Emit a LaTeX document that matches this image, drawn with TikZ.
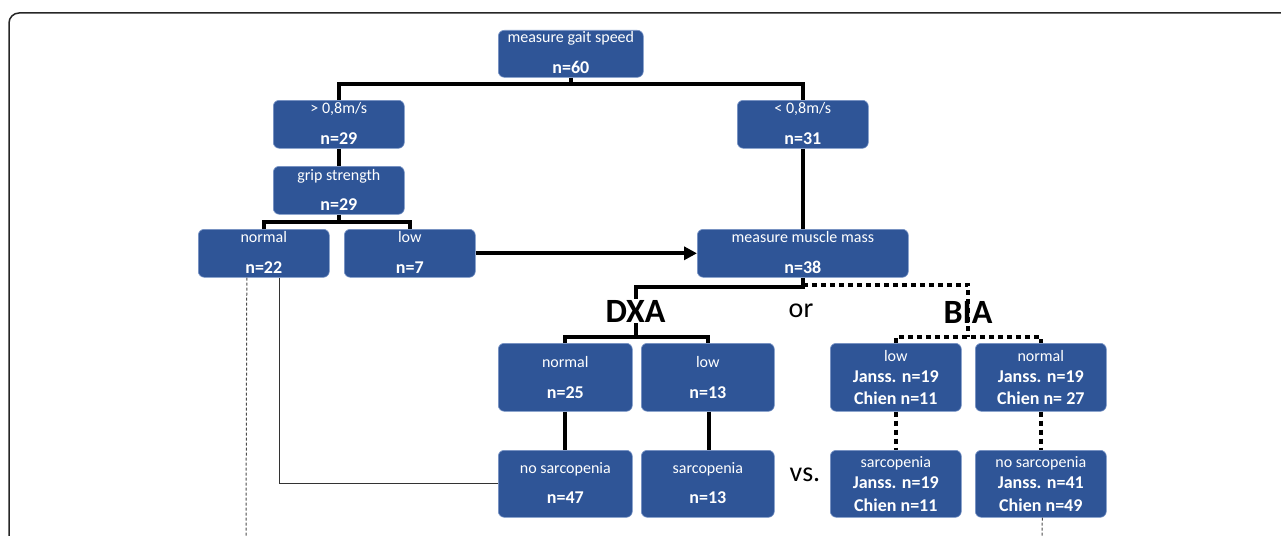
\documentclass[tikz,border=0pt]{standalone}
\usepackage{fontspec}
\setmainfont{Carlito}
\usetikzlibrary{arrows.meta}
\definecolor{boxblue}{RGB}{47,85,151}
\definecolor{boxedge}{RGB}{120,148,198}
\begin{document}
\begin{tikzpicture}[x=1pt,y=-1pt,
 box/.style={fill=boxblue, draw=boxedge, line width=0.6pt, rounded corners=6pt, anchor=north west, inner sep=0pt},
 ttl/.style={anchor=base, inner sep=0pt, text=white, font=\fontsize{16}{19}\selectfont},
 num/.style={anchor=base, inner sep=0pt, text=white, font=\fontsize{18}{21}\selectfont\bfseries},
 conn/.style={line width=4pt, black},
 dotconn/.style={line width=4pt, black, dash pattern=on 5pt off 4pt},
 thinconn/.style={line width=1pt, black!80},
 dashconn/.style={line width=1pt, black!70, dash pattern=on 3pt off 2pt},
 big/.style={inner sep=1pt, text height=22pt, text depth=0pt, anchor=base, font=\fontsize{34}{40}\selectfont\bfseries},
 mid/.style={anchor=base, inner sep=0pt, font=\fontsize{28}{32}\selectfont}
]
\useasboundingbox (0,0) rectangle (1281,535);
% outer frame
\draw[line width=1.5pt, black!85, rounded corners=10pt] (9,545) -- (9,13) -- (1295,13);

% boxes
\node[box, minimum width=145pt, minimum height=47pt] (gait) at (498,30) {};
\node[box, minimum width=131pt, minimum height=48pt] (fast) at (273,100) {};
\node[box, minimum width=131pt, minimum height=48pt] (slow) at (737,100) {};
\node[box, minimum width=131pt, minimum height=48pt] (grip) at (273,166) {};
\node[box, minimum width=131pt, minimum height=48pt] (gnorm) at (198,229) {};
\node[box, minimum width=131pt, minimum height=48pt] (glow) at (344,229) {};
\node[box, minimum width=211pt, minimum height=48pt] (muscle) at (697,229) {};
\node[box, minimum width=134pt, minimum height=68pt] (dnorm) at (498,343) {};
\node[box, minimum width=133pt, minimum height=68pt] (dlow) at (641,343) {};
\node[box, minimum width=134pt, minimum height=67pt] (dno) at (498,450) {};
\node[box, minimum width=133pt, minimum height=67pt] (dsar) at (641,450) {};
\node[box, minimum width=131pt, minimum height=68pt] (blow) at (830,343) {};
\node[box, minimum width=131pt, minimum height=68pt] (bnorm) at (975,343) {};
\node[box, minimum width=131pt, minimum height=67pt] (bsar) at (830,450) {};
\node[box, minimum width=131pt, minimum height=67pt] (bno) at (975,450) {};

% box texts
\node[ttl] at ([yshift=-13pt]gait.north) {measure gait speed};
\node[num] at ([yshift=-44pt]gait.north) {n=60};
\node[ttl] at ([yshift=-13pt]fast.north) {> 0,8m/s};
\node[num] at ([yshift=-44pt]fast.north) {n=29};
\node[ttl] at ([yshift=-13pt]slow.north) {< 0,8m/s};
\node[num] at ([yshift=-44pt]slow.north) {n=31};
\node[ttl] at ([yshift=-14pt]grip.north) {grip strength};
\node[num] at ([yshift=-44pt]grip.north) {n=29};
\node[ttl] at ([yshift=-13pt]gnorm.north) {normal};
\node[num] at ([yshift=-44pt]gnorm.north) {n=22};
\node[ttl] at ([yshift=-13pt]glow.north) {low};
\node[num] at ([yshift=-44pt]glow.north) {n=7};
\node[ttl] at ([yshift=-13pt]muscle.north) {measure muscle mass};
\node[num] at ([yshift=-44pt]muscle.north) {n=38};
\node[ttl] at ([yshift=-24pt]dnorm.north) {normal};
\node[num] at ([yshift=-55pt]dnorm.north) {n=25};
\node[ttl] at ([yshift=-24pt]dlow.north) {low};
\node[num] at ([yshift=-55pt]dlow.north) {n=13};
\node[ttl] at ([yshift=-23pt]dno.north) {no sarcopenia};
\node[num] at ([yshift=-53pt]dno.north) {n=47};
\node[ttl] at ([yshift=-23pt]dsar.north) {sarcopenia};
\node[num] at ([yshift=-53pt]dsar.north) {n=13};
\node[ttl] at ([yshift=-18pt]blow.north) {low};
\node[num] at ([yshift=-39pt]blow.north) {Janss. n=19};
\node[num] at ([yshift=-61pt]blow.north) {Chien n=11};
\node[ttl] at ([yshift=-18pt]bnorm.north) {normal};
\node[num] at ([yshift=-39pt]bnorm.north) {Janss. n=19};
\node[num] at ([yshift=-61pt]bnorm.north) {Chien n= 27};
\node[ttl] at ([yshift=-17pt]bsar.north) {sarcopenia};
\node[num] at ([yshift=-38pt]bsar.north) {Janss. n=19};
\node[num] at ([yshift=-61pt]bsar.north) {Chien n=11};
\node[ttl] at ([yshift=-17pt]bno.north) {no sarcopenia};
\node[num] at ([yshift=-38pt]bno.north) {Janss. n=41};
\node[num] at ([yshift=-61pt]bno.north) {Chien n=49};

% free labels
\node[big] (dxa) at (635.5,322) {DXA};
\node[big] (bia) at (968,323) {BIA};
\node[mid] (or) at (801,317) {or};
\node[mid] (vs) at (805,481) {vs.};

% connectors
\draw[conn] (fast.north) -- ++(0,-16) -| (slow.north);
\draw[conn] (gait.south) -- ([yshift=16pt]gait.south |- fast.north);
\draw[conn] (fast.south) -- (fast.south |- grip.north);
\draw[conn] (gnorm.north) -- ++(0,-7) -| (glow.north);
\draw[conn] (grip.south) -- ([yshift=7pt]grip.south |- gnorm.north);
\draw[conn, -{Triangle[length=13pt,width=13pt]}] (glow.east) -- (glow.east -| muscle.west);
\draw[conn] (slow.south) -- (slow.south |- muscle.north);
\draw[conn] (muscle.south) -- ++(0,9) -| (dxa.north);
\draw[conn] (dnorm.north) -- ++(0,-6) -| (dlow.north);
\draw[conn] (dxa.south) -- ([yshift=6pt]dxa.south |- dnorm.north);
\draw[conn] (dnorm.south) -- (dno.north);
\draw[conn] ([xshift=1pt]dlow.south) -- ([xshift=1pt]dlow.south |- dsar.north);
\draw[dotconn] ([yshift=-7pt]muscle.south) -| ([yshift=6pt]bia.south |- blow.north);
\draw[dotconn] (blow.north) -- ++(0,-6) -| (bnorm.north);
\draw[dotconn] (blow.south) -- (bsar.north);
\draw[dotconn] (bnorm.south) -- (bno.north);
\coordinate (e1) at (246,536);
\coordinate (e2) at (1042,536);
\draw[thinconn] ([xshift=16pt]gnorm.south) |- (dno.west);
\draw[dashconn] ([xshift=-17pt]gnorm.south) -- (e1);
\draw[dashconn] ([xshift=1.5pt]bno.south) -- (e2);
\end{tikzpicture}
\end{document}
